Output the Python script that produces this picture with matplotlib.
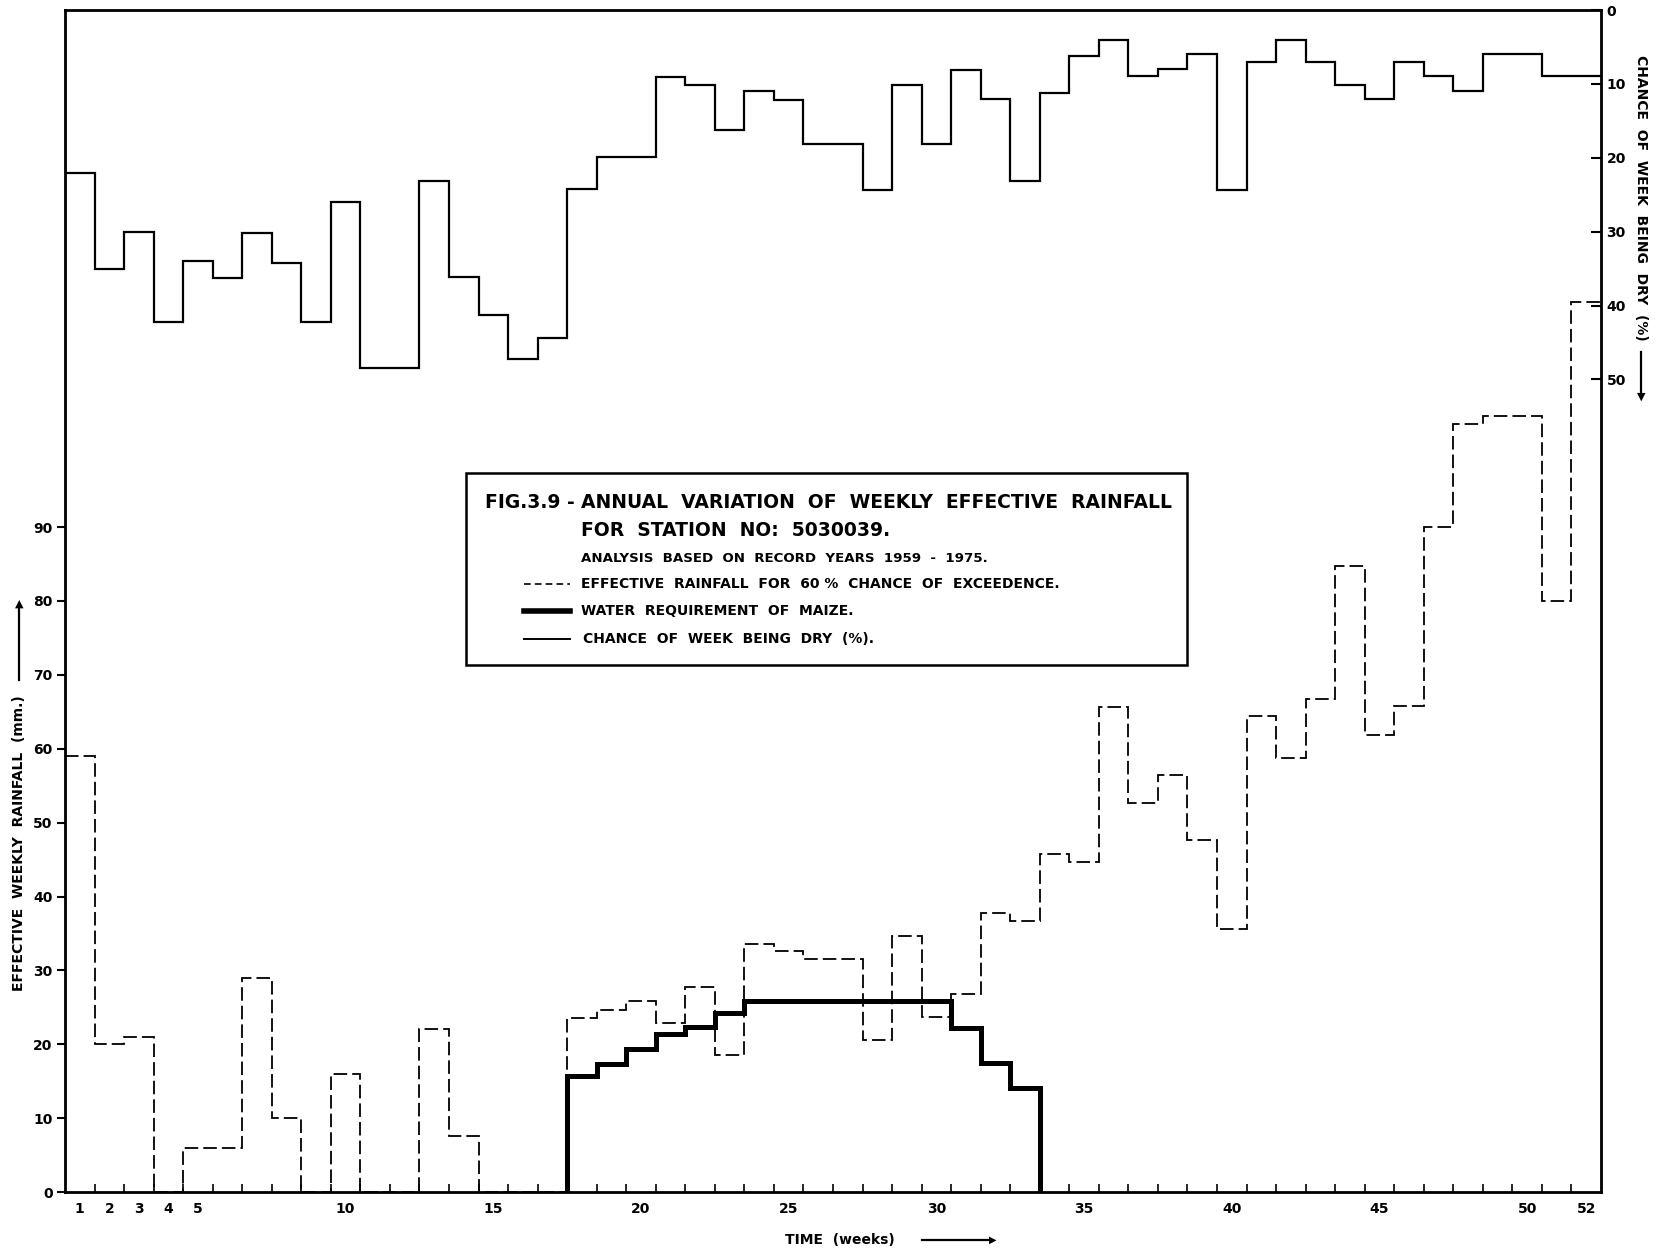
import numpy as np
import matplotlib.pyplot as plt
from matplotlib.patches import Rectangle
from matplotlib.lines import Line2D

# week numbers 1..52
weeks = np.arange(1, 53)

# effective rainfall for 60 % chance of exceedence (mm)
rain_60 = [59, 20, 21, 0, 6, 6, 29, 10, 0, 16,
           0, 0, 22, 7.6, 0, 0, 0, 23.6, 24.7, 25.8,
           22.9, 27.8, 18.6, 33.6, 32.6, 31.5, 31.5, 20.6, 34.6, 23.7,
           26.8, 37.7, 36.7, 45.7, 44.7, 65.7, 52.7, 56.5, 47.7, 35.6,
           64.5, 58.8, 66.7, 84.8, 61.8, 65.8, 90, 104, 105, 105,
           80, 120.5]

# water requirement of maize, weeks 18..33 (mm)
maize_weeks = np.arange(18, 34)
maize_req = [15.7, 17.3, 19.4, 21.4, 22.4, 24.2, 25.8, 25.8, 25.8, 25.8,
             25.8, 25.8, 25.8, 22.2, 17.4, 14.1]

# chance of week being dry (%)
dry_pct = [22.1, 35.0, 30.1, 42.2, 34.0, 36.3, 30.2, 34.3, 42.2, 26.0,
           48.4, 48.4, 23.2, 36.1, 41.3, 47.3, 44.4, 24.2, 19.9, 19.9,
           9.1, 10.2, 16.3, 11.0, 12.2, 18.2, 18.2, 24.3, 10.1, 18.2,
           8.1, 12.1, 23.1, 11.2, 6.2, 4.1, 9.0, 8.0, 6.0, 24.3,
           7.1, 4.1, 7.1, 10.1, 12.0, 7.1, 9.0, 11.0, 5.9, 5.9,
           9.0, 9.0]

week_labels = [1, 2, 3, 4, 5, 10, 15, 20, 25, 30, 35, 40, 45, 50, 52]
rain_ticks = [0, 10, 20, 30, 40, 50, 60, 70, 80, 90]
dry_ticks = [0, 10, 20, 30, 40, 50]

W, H = 1662, 1253
plt.rcParams['font.family'] = ['DejaVu Sans']
plt.rcParams['font.weight'] = 'bold'

def fx(px):
    return px / W

def fy(py):
    return 1 - py / H

fig = plt.figure(figsize=(W / 100, H / 100), dpi=100)
ax = fig.add_axes([fx(65), fy(1192), (1601 - 65) / W, (1192 - 10) / H])

edges = np.append(weeks - 0.5, weeks[-1] + 0.5)
ax.stairs(rain_60, edges, baseline=None, color='black', lw=1.3,
          linestyle=(0, (7.5, 2.8)))
m_edges = np.append(maize_weeks - 0.5, maize_weeks[-1] + 0.5)
ax.stairs(maize_req, m_edges, baseline=0, color='black', lw=3.6)

ax.set_xlim(0.5, 52.5)
ax.set_ylim(0, 160)
ax.set_yticks(rain_ticks)
ax.set_yticklabels([str(v) for v in rain_ticks], fontsize=10)
ax.tick_params(axis='y', direction='out', length=6, width=1.5, pad=3)
ax.set_xticks(week_labels)
ax.set_xticklabels([str(v) for v in week_labels], fontsize=10)
ax.set_xticks(np.arange(1.5, 52, 1), minor=True)
ax.tick_params(axis='x', which='major', length=0, pad=7)
ax.tick_params(axis='x', which='minor', direction='in', length=6, width=1.2)
for s in ax.spines.values():
    s.set_linewidth(2)

ax2 = ax.twinx()
ax2.stairs(dry_pct, edges, baseline=None, color='black', lw=1.6)
ax2.set_ylim(160, 0)
ax2.set_yticks(dry_ticks)
ax2.set_yticklabels([str(v) for v in dry_ticks], fontsize=10)
ax2.tick_params(axis='y', direction='in', length=7, width=1.5, pad=4)

# axis titles with arrows
fig.text(fx(19), fy(843), 'EFFECTIVE  WEEKLY  RAINFALL  (mm.)', rotation=90,
         ha='center', va='center', fontsize=10)
fig.add_artist(Line2D([fx(19), fx(19)], [fy(680), fy(606)], color='black', lw=1.6))
fig.text(fx(19), fy(604), '\u25B2', ha='center', va='center', fontsize=8)

fig.text(fx(1641), fy(198), 'CHANCE  OF  WEEK  BEING  DRY  (%)', rotation=-90,
         ha='center', va='center', fontsize=10)
fig.add_artist(Line2D([fx(1641), fx(1641)], [fy(352), fy(395)], color='black', lw=1.6))
fig.text(fx(1641), fy(397), '\u25BC', ha='center', va='center', fontsize=8)

fig.text(fx(840), fy(1240), 'TIME  (weeks)', ha='center', va='center', fontsize=10)
fig.add_artist(Line2D([fx(922), fx(990)], [fy(1240), fy(1240)], color='black', lw=1.6))
fig.text(fx(993), fy(1240), '\u25B6', ha='center', va='center', fontsize=7)

# key box
fig.add_artist(Rectangle((fx(466), fy(665)), (1187 - 466) / W, (665 - 473) / H,
                         transform=fig.transFigure, fill=False, lw=1.8,
                         edgecolor='black'))
fig.text(fx(485), fy(502), 'FIG.3.9 -', ha='left', va='center', fontsize=13.5)
fig.text(fx(581), fy(502), 'ANNUAL  VARIATION  OF  WEEKLY  EFFECTIVE  RAINFALL',
         ha='left', va='center', fontsize=13.5)
fig.text(fx(581), fy(531), 'FOR  STATION  NO:  5030039.',
         ha='left', va='center', fontsize=13.5)
fig.text(fx(581), fy(558), 'ANALYSIS  BASED  ON  RECORD  YEARS  1959  -  1975.',
         ha='left', va='center', fontsize=9.6)
fig.add_artist(Line2D([fx(524), fx(570)], [fy(584), fy(584)], color='black', lw=1.2,
                      linestyle=(0, (4, 2.5))))
fig.text(fx(581), fy(584), 'EFFECTIVE  RAINFALL  FOR  60 %  CHANCE  OF  EXCEEDENCE.',
         ha='left', va='center', fontsize=10)
fig.add_artist(Line2D([fx(524), fx(570)], [fy(611), fy(611)], color='black', lw=4))
fig.text(fx(581), fy(611), 'WATER  REQUIREMENT  OF  MAIZE.',
         ha='left', va='center', fontsize=10)
fig.add_artist(Line2D([fx(524), fx(570)], [fy(639), fy(639)], color='black', lw=1.4))
fig.text(fx(583), fy(639), 'CHANCE  OF  WEEK  BEING  DRY  (%).',
         ha='left', va='center', fontsize=10)

fig.savefig('out.png', dpi=100)
